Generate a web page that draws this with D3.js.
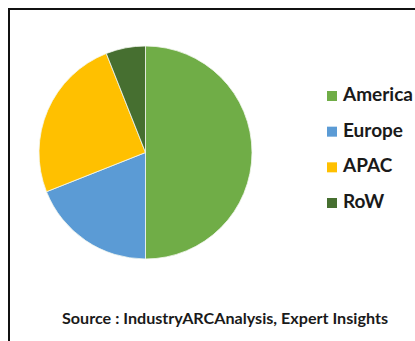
<!DOCTYPE html>
<html>
<head>
<meta charset="utf-8">
<script src="https://cdn.jsdelivr.net/npm/d3@7"></script>
<style>
  html, body { margin: 0; padding: 0; background: #fff; overflow: hidden; }
  svg { display: block; }
</style>
</head>
<body>
<svg id="chart" width="415" height="341"></svg>
<script>
// Market share by region (%)
const regions = ["America", "Europe", "APAC", "RoW"];
const shares = [50, 19, 25, 6];
const colors = ["#70ad47", "#5b9bd5", "#ffc000", "#466f30"];
const sourceNote = "Source : IndustryARCAnalysis, Expert Insights";

const svg = d3.select("#chart");
const W = 415, H = 341;

// outer frame: only its top and left edges fall inside the view
svg.append("path")
  .attr("d", `M9,${H} V9 H${W}`)
  .attr("fill", "none")
  .attr("stroke", "#111")
  .attr("stroke-width", 2);

const data = regions.map((r, i) => ({ region: r, share: shares[i] }));

const color = d3.scaleOrdinal().domain(regions).range(colors);

const pie = d3.pie().sort(null).value(d => d.share);
const radius = 106.5;
const arc = d3.arc().innerRadius(0).outerRadius(radius);

const g = svg.append("g").attr("transform", "translate(145.5,152.5)");

g.selectAll("path.slice")
  .data(pie(data))
  .join("path")
  .attr("class", "slice")
  .attr("d", arc)
  .attr("fill", d => color(d.data.region))
  .attr("stroke", "#f4f8f0")
  .attr("stroke-width", 0.8);

// legend
const legendY = d3.scalePoint().domain(regions).range([101, 208]);
const legend = svg.append("g").attr("class", "legend");

legend.selectAll("rect")
  .data(regions)
  .join("rect")
  .attr("x", 327)
  .attr("y", d => legendY(d) - 10)
  .attr("width", 10)
  .attr("height", 10)
  .attr("fill", d => color(d));

legend.selectAll("text")
  .data(regions)
  .join("text")
  .attr("x", 343)
  .attr("y", d => legendY(d))
  .attr("font-family", "Lato, 'Open Sans', sans-serif")
  .attr("font-weight", "bold")
  .attr("font-size", 19)
  .attr("fill", "#1a1a1a")
  .text(d => d);

// source note
svg.append("text")
  .attr("x", 225)
  .attr("y", 323.5)
  .attr("text-anchor", "middle")
  .attr("font-family", "Lato, 'Open Sans', sans-serif")
  .attr("font-weight", "bold")
  .attr("font-size", 15)
  .attr("fill", "#1a1a1a")
  .attr("textLength", 326)
  .attr("lengthAdjust", "spacingAndGlyphs")
  .text(sourceNote);
</script>
</body>
</html>
